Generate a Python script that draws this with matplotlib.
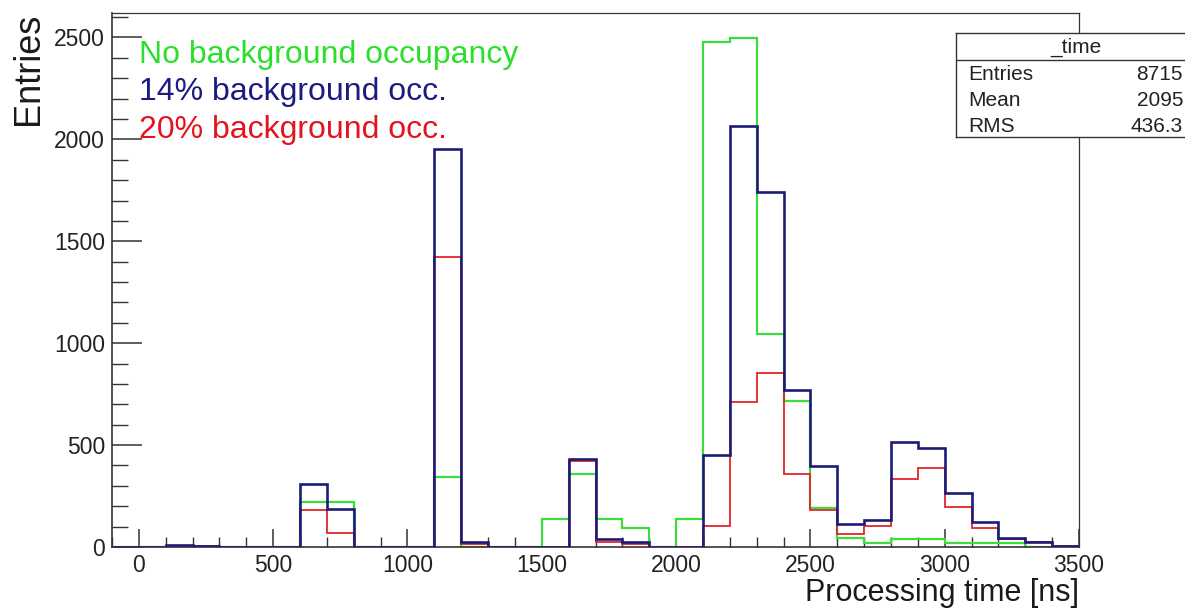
import numpy as np
import matplotlib
matplotlib.use('Agg')
import matplotlib.pyplot as plt
from matplotlib.ticker import MultipleLocator

plt.rcParams['font.family'] = ['Liberation Sans', 'DejaVu Sans']

# 100 ns bins from -100 to 3500 ns
bin_edges = np.arange(-100, 3501, 100)

# entries per bin, first bin is [-100, 0)
no_bkg = [0, 0, 0, 0, 0, 0, 0, 222, 222, 0, 0, 0, 343, 0, 0, 0, 136, 357,
          136, 92, 0, 136, 2480, 2495, 1043, 716, 193, 43, 18, 38, 38, 18,
          18, 20, 0, 0]
bkg_14 = [0, 0, 8, 6, 0, 0, 0, 307, 188, 0, 0, 0, 1952, 26, 0, 0, 0, 430,
          38, 26, 0, 0, 451, 2065, 1742, 770, 397, 111, 131, 516, 484, 263,
          123, 46, 26, 5]
bkg_20 = [0, 0, 0, 5, 0, 0, 0, 180, 70, 0, 0, 0, 1422, 16, 0, 0, 0, 420,
          26, 16, 0, 0, 103, 711, 855, 356, 180, 62, 103, 332, 389, 196,
          92, 38, 26, 3]

labels = ['No background occupancy', '14% background occ.', '20% background occ.']
colors = ['#3cdc3c', '#1b1b78', '#e3242b']
text_colors = ['#2ae02a', '#1b1b80', '#e3141e']

stat_names = ['Entries', 'Mean', 'RMS']
stat_values = ['8715', '2095', '436.3']

fig = plt.figure(figsize=(11.85, 6.11), dpi=100)
ax = fig.add_axes([112 / 1185, 1 - 547 / 611, 967 / 1185, 534 / 611])

# green first, then red, blue on top
ax.stairs(no_bkg, bin_edges, color=colors[0], linewidth=1.6, zorder=2)
ax.stairs(bkg_20, bin_edges, color=colors[2], linewidth=1.3, zorder=3)
ax.stairs(bkg_14, bin_edges, color=colors[1], linewidth=1.9, zorder=4)

ax.set_xlim(-100, 3500)
ax.set_ylim(0, 2620)

ax.xaxis.set_major_locator(MultipleLocator(500))
ax.xaxis.set_minor_locator(MultipleLocator(100))
ax.yaxis.set_major_locator(MultipleLocator(500))
ax.yaxis.set_minor_locator(MultipleLocator(100))
ax.set_xticks(np.arange(0, 3501, 500))

ax.tick_params(axis='x', which='major', direction='in', length=13, width=1.1,
               labelsize=16.5, pad=5, colors='#333333', labelcolor='#222222')
ax.tick_params(axis='x', which='minor', direction='in', length=7, width=1.0,
               colors='#333333')
ax.tick_params(axis='y', which='major', direction='in', length=21.5, width=1.1,
               labelsize=16.5, pad=5, colors='#333333', labelcolor='#222222')
ax.tick_params(axis='y', which='minor', direction='in', length=11.5, width=1.0,
               colors='#333333')

for side in ['left', 'bottom']:
    ax.spines[side].set_linewidth(1.2)
    ax.spines[side].set_color('#333333')
for side in ['top', 'right']:
    ax.spines[side].set_linewidth(0.9)
    ax.spines[side].set_color('#333333')

ax.set_xlabel('Processing time [ns]', loc='right', fontsize=22, color='#1a1a1a')
ax.xaxis.set_label_coords(1.0, -0.058)
ax.set_ylabel('Entries', loc='top', fontsize=26, color='#1a1a1a')
ax.yaxis.set_label_coords(-0.068, 1.0)

# coloured legend text in the top-left corner
for lab, col, yb in zip(labels, text_colors, [0.906, 0.837, 0.766]):
    ax.text(0.028, yb, lab, color=col, fontsize=23, transform=ax.transAxes,
            ha='left', va='baseline', zorder=5)

# statistics box, running off the right edge
box = fig.add_axes([956 / 1185, 1 - 137 / 611, 0.22, 104 / 611], zorder=10)
box.set_xlim(0, 1)
box.set_ylim(0, 1)
box.set_xticks([])
box.set_yticks([])
for sp in box.spines.values():
    sp.set_linewidth(1.0)
    sp.set_color('#333333')
box.axhline((137 - 60) / 104, color='#333333', linewidth=1.0)

fig.text(1076 / 1185, 1 - 47 / 611, '_time', fontsize=15, ha='center',
         va='center', color='#222222', zorder=11)
for name, val, py in zip(stat_names, stat_values, [74, 100, 126]):
    fig.text(968 / 1185, 1 - py / 611, name, fontsize=15, ha='left',
             va='center', color='#222222', zorder=11)
    fig.text(1183 / 1185, 1 - py / 611, val, fontsize=15, ha='right',
             va='center', color='#222222', zorder=11)

fig.savefig('out.png', dpi=100)
plt.close(fig)
